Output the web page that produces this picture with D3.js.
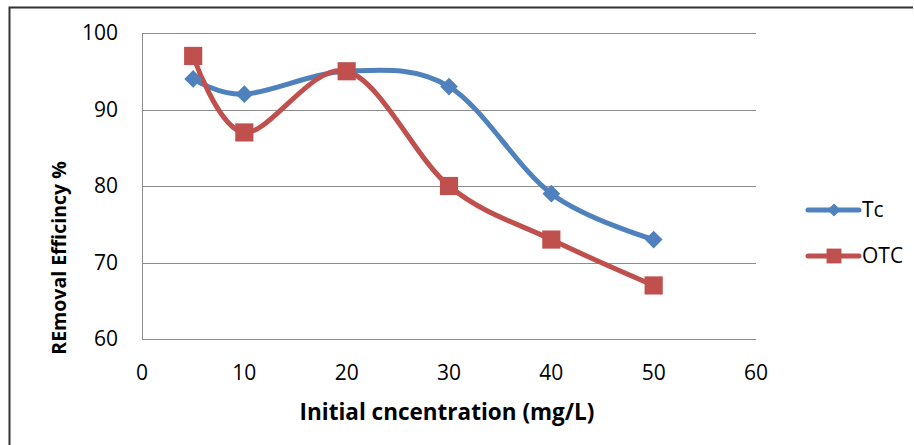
<!doctype html>
<html lang="en">
<head>
<meta charset="utf-8">
<title>Removal efficiency</title>
<script src="https://d3js.org/d3.v7.min.js"></script>
<style>
  body { margin: 0; background: #fff; }
  svg { display: block; }
  text { font-family: "Open Sans", "Liberation Sans", sans-serif; fill: #000; }
</style>
</head>
<body>
<svg id="chart" width="914" height="445"></svg>
<script>
// data
const concentrations = [5, 10, 20, 30, 40, 50];
const tcValues = [94, 92, 95, 93, 79, 73];
const otcValues = [97, 87, 95, 80, 73, 67];
const seriesNames = ["Tc", "OTC"];
const xTicks = [0, 10, 20, 30, 40, 50, 60];
const yTicks = [60, 70, 80, 90, 100];

const svg = d3.select("#chart");

// outer frame: only top and left edges show
svg.append("path")
  .attr("d", "M9.5,445 V7.5 H913")
  .attr("fill", "none")
  .attr("stroke", "#333")
  .attr("stroke-width", 2);

const x = d3.scaleLinear().domain([0, 60]).range([142, 756]);
const y = d3.scaleLinear().domain([60, 100]).range([339, 33]);

// horizontal gridlines
svg.append("g")
  .selectAll("line")
  .data(yTicks)
  .join("line")
  .attr("x1", x(0)).attr("x2", x(60))
  .attr("y1", d => Math.round(y(d)) + 0.5)
  .attr("y2", d => Math.round(y(d)) + 0.5)
  .attr("stroke", "#8c8c8c")
  .attr("stroke-width", 1);

// left axis line
svg.append("line")
  .attr("x1", x(0) + 0.5).attr("x2", x(0) + 0.5)
  .attr("y1", y(100)).attr("y2", y(60) + 0.5)
  .attr("stroke", "#8c8c8c");

// tick labels
svg.append("g")
  .selectAll("text")
  .data(yTicks)
  .join("text")
  .attr("x", 118)
  .attr("y", d => y(d))
  .attr("dy", "0.35em")
  .attr("text-anchor", "end")
  .style("font-size", "21px")
  .text(d => d);

svg.append("g")
  .selectAll("text")
  .data(xTicks)
  .join("text")
  .attr("x", d => x(d))
  .attr("y", 373)
  .attr("dy", "0.35em")
  .attr("text-anchor", "middle")
  .style("font-size", "21px")
  .text(d => d);

// axis titles
svg.append("text")
  .attr("x", 447)
  .attr("y", 412)
  .attr("dy", "0.35em")
  .attr("text-anchor", "middle")
  .style("font-size", "22.5px")
  .style("font-weight", "bold")
  .text("Initial cncentration (mg/L)");

svg.append("text")
  .attr("transform", "translate(59,258) rotate(-90)")
  .attr("dy", "0.35em")
  .attr("text-anchor", "middle")
  .style("font-size", "19.5px")
  .style("font-weight", "bold")
  .text("REmoval Efficincy %");

// series
const colors = ["#4f81bd", "#c0504d"];
const series = [tcValues, otcValues];

const line = d3.line()
  .x((d, i) => x(concentrations[i]))
  .y(d => y(d))
  .curve(d3.curveCatmullRom.alpha(0));

const diamond = d3.symbol().type(d3.symbolDiamond2).size(200);
const square = d3.symbol().type(d3.symbolSquare).size(330);
const shapes = [diamond, square];

series.forEach((vals, k) => {
  svg.append("path")
    .datum(vals)
    .attr("d", line)
    .attr("fill", "none")
    .attr("stroke", colors[k])
    .attr("stroke-width", 5)
    .attr("stroke-linecap", "round");
});

series.forEach((vals, k) => {
  svg.append("g")
    .selectAll("path")
    .data(vals)
    .join("path")
    .attr("transform", (d, i) => `translate(${x(concentrations[i])},${y(d)})`)
    .attr("d", shapes[k])
    .attr("fill", colors[k]);
});

// legend
const legend = svg.append("g");
const legendY = [210, 256];
seriesNames.forEach((name, k) => {
  legend.append("line")
    .attr("x1", 808).attr("x2", 859)
    .attr("y1", legendY[k]).attr("y2", legendY[k])
    .attr("stroke", colors[k])
    .attr("stroke-width", 5)
    .attr("stroke-linecap", "round");
  legend.append("path")
    .attr("transform", `translate(834,${legendY[k]})`)
    .attr("d", k === 0 ? d3.symbol().type(d3.symbolDiamond2).size(110)() : d3.symbol().type(d3.symbolSquare).size(220)())
    .attr("fill", colors[k]);
  legend.append("text")
    .attr("x", 862)
    .attr("y", legendY[k])
    .attr("dy", "0.35em")
    .style("font-size", "21px")
    .text(name);
});
</script>
</body>
</html>
